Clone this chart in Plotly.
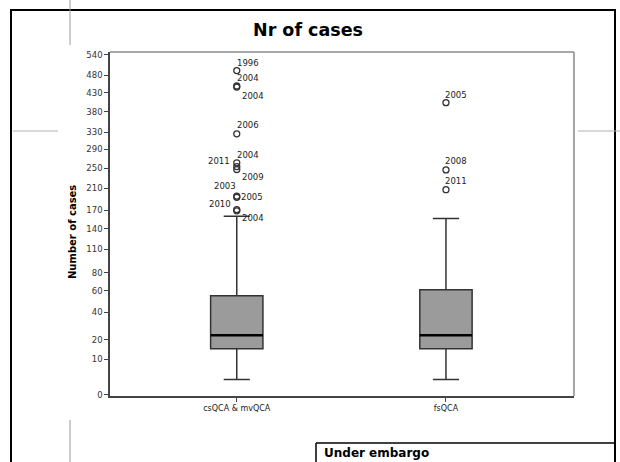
import numpy as np
import plotly.graph_objects as go

# ---------------- data ----------------
groups = ["csQCA & mvQCA", "fsQCA"]
q1 = [15, 15]
median = [23, 23]
q3 = [55, 61]
lower_whisker = [3, 3]
upper_whisker = [160, 156]

cs_outlier_years = ["1996", "2004", "2004", "2006", "2004", "2011", "2009", "2003", "2005", "2010", "2004"]
cs_outlier_values = [493, 449, 446, 326, 261, 253, 247, 195, 193, 171, 169]
fs_outlier_years = ["2005", "2008", "2011"]
fs_outlier_values = [404, 246, 207]

y_ticks = [0, 10, 20, 40, 60, 80, 110, 140, 170, 210, 250, 290, 330, 380, 430, 480, 540]

# label placement (anchor, dx px, dy px) for each outlier label
cs_label_place = [("left", -2, -8), ("left", -2, -8), ("left", 3, 9), ("left", -2, -9),
                  ("left", -2, -8), ("right", -5, -6), ("left", 3, 8), ("right", 1, -10),
                  ("left", 2, 0), ("right", -4, -6), ("left", 3, 7)]
fs_label_place = [("left", -3, -8), ("left", -3, -9), ("left", -3, -9)]


def f(v):
    """square-root type scale used by the chart"""
    return np.sqrt(np.asarray(v, dtype=float) + 1.0)


W, H = 620, 462
ML, MR, MT, MB = 110, 46, 52, 66
PW, PH = W - ML - MR, H - MT - MB


def px(x):
    return (x - ML) / PW


def py(y):
    return (H - MB - y) / PH


FONT = "DejaVu Sans"
DARK = "#333333"
BOX_W = 0.25

fig = go.Figure()

for i, g in enumerate(groups):
    fig.add_trace(go.Box(
        x=[i], q1=[float(f(q1[i]))], median=[float(f(median[i]))], q3=[float(f(q3[i]))],
        lowerfence=[float(f(lower_whisker[i]))], upperfence=[float(f(upper_whisker[i]))],
        width=BOX_W, whiskerwidth=0.5, fillcolor="#9b9b9b",
        line=dict(color=DARK, width=1.5), boxpoints=False, showlegend=False,
        hoverinfo="skip",
    ))

marker = dict(symbol="circle-open", size=6, color=DARK, line=dict(width=1.3, color=DARK))
fig.add_trace(go.Scatter(x=[0] * len(cs_outlier_values), y=f(cs_outlier_values), mode="markers",
                         marker=marker, showlegend=False, hoverinfo="skip"))
fig.add_trace(go.Scatter(x=[1] * len(fs_outlier_values), y=f(fs_outlier_values), mode="markers",
                         marker=marker, showlegend=False, hoverinfo="skip"))

annotations = []
for xi, years, vals, places in [(0, cs_outlier_years, cs_outlier_values, cs_label_place),
                                (1, fs_outlier_years, fs_outlier_values, fs_label_place)]:
    for yr, v, (anc, dx, dy) in zip(years, vals, places):
        annotations.append(dict(x=xi, y=float(f(v)), xref="x", yref="y", text=yr, showarrow=False,
                                xanchor=anc, yanchor="middle", xshift=dx, yshift=-dy,
                                font=dict(family=FONT, size=8.5, color="#222222")))

# thicker median lines
shapes = []
for i in range(len(groups)):
    shapes.append(dict(type="line", xref="x", yref="y", x0=i - BOX_W / 2, x1=i + BOX_W / 2,
                       y0=float(f(median[i])), y1=float(f(median[i])),
                       line=dict(color="black", width=2.5)))

# plot frame top/right (gray)
shapes.append(dict(type="line", xref="paper", yref="paper", x0=0, x1=1, y0=1, y1=1,
                   line=dict(color="#8a8a8a", width=1.5)))
shapes.append(dict(type="line", xref="paper", yref="paper", x0=1, x1=1, y0=0, y1=1,
                   line=dict(color="#8a8a8a", width=1.5)))

# outer page frame and decorations
def pline(x0, y0, x1, y1, color, width):
    shapes.append(dict(type="line", xref="paper", yref="paper", x0=px(x0), y0=py(y0),
                       x1=px(x1), y1=py(y1), line=dict(color=color, width=width)))

pline(11, 10, 11, 462, "black", 2)
pline(10, 10, 616, 10, "black", 2)
pline(615, 10, 615, 462, "black", 2)
pline(316, 443, 616, 443, "black", 1.5)
pline(316, 443, 316, 462, "black", 1.5)
pline(70, 0, 70, 45, "#9a9a9a", 1)
pline(70, 420, 70, 462, "#9a9a9a", 1)
pline(13, 131, 58, 131, "#b0b0b0", 1)
pline(578, 131, 620, 131, "#b0b0b0", 1)

annotations.append(dict(x=px(308), y=py(30), xref="paper", yref="paper", text="<b>Nr of cases</b>",
                        showarrow=False, xanchor="center", yanchor="middle",
                        font=dict(family=FONT, size=17.5, color="black")))
annotations.append(dict(x=px(72), y=py(232), xref="paper", yref="paper", text="<b>Number of cases</b>",
                        showarrow=False, textangle=-90, xanchor="center", yanchor="middle",
                        font=dict(family=FONT, size=10, color="black")))
annotations.append(dict(x=px(322), y=py(453), xref="paper", yref="paper", text="<b>Under embargo</b>",
                        showarrow=False, xanchor="left", yanchor="middle",
                        font=dict(family=FONT, size=12, color="black")))

t_bottom = 3.317 + (359.3 - (H - MB)) / 15.27
t_top = 3.317 + (359.3 - MT) / 15.27

fig.update_layout(
    width=W, height=H, margin=dict(l=ML, r=MR, t=MT, b=MB, pad=0),
    paper_bgcolor="white", plot_bgcolor="white",
    shapes=shapes, annotations=annotations,
    xaxis=dict(range=[-0.606, 1.612], tickvals=list(range(len(groups))), ticktext=groups,
               showgrid=False, zeroline=False, showline=True, linecolor="#444444", linewidth=1.5,
               ticks="outside", ticklen=4, tickcolor="#444444",
               tickfont=dict(family=FONT, size=8, color="#222222")),
    yaxis=dict(range=[t_bottom, t_top], tickvals=[float(v) for v in f(y_ticks)],
               ticktext=[str(v) for v in y_ticks],
               showgrid=False, zeroline=False, showline=True, linecolor="#444444", linewidth=1.5,
               ticks="outside", ticklen=4, tickcolor="#444444",
               tickfont=dict(family=FONT, size=8.5, color="#333333")),
    font=dict(family=FONT),
)

fig.write_html("out.html")
